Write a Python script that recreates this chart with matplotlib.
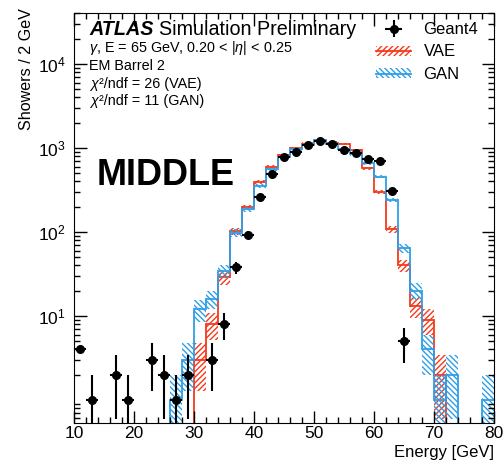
import numpy as np
import matplotlib
matplotlib.use('Agg')
import matplotlib.pyplot as plt
from matplotlib.patches import Patch
from matplotlib.lines import Line2D
from matplotlib.ticker import MultipleLocator, LogLocator, NullFormatter

plt.rcParams['font.family'] = ['Liberation Sans', 'DejaVu Sans']
plt.rcParams['mathtext.fontset'] = 'custom'
plt.rcParams['mathtext.rm'] = 'Liberation Sans'
plt.rcParams['mathtext.it'] = 'Liberation Sans:italic'
plt.rcParams['mathtext.bf'] = 'Liberation Sans:bold'
plt.rcParams['hatch.linewidth'] = 1.0

# 2 GeV bins, 10 - 80 GeV
bin_edges = np.arange(10, 82, 2)
bin_centers = bin_edges[:-1] + 1

# Geant4 reference counts
geant4 = [4, 1, 0, 2, 1, 0, 3, 2, 1, 2, 0, 3, 8, 38, 92, 260, 490, 780, 900,
          1090, 1210, 1120, 950, 870, 740, 700, 310, 5, 0, 0, 0, 0, 0, 0, 0]
# VAE counts
vae = [0, 0, 0, 0, 0, 0, 0, 0, 0, 0, 3, 8, 29, 102, 198, 390, 600, 830, 990,
       1130, 1250, 1160, 1120, 950, 575, 300, 108, 40, 13, 9, 2, 0, 0, 0, 0]
# GAN counts
gan = [0, 0, 0, 0, 0, 0, 0, 0, 1, 3, 12, 16, 34, 98, 185, 350, 560, 780, 960,
       1080, 1250, 1130, 960, 840, 660, 455, 240, 64, 20, 4, 1, 2, 0, 0, 1]

red = '#f5391c'
blue = '#2f9fe6'

fig = plt.figure(figsize=(5.04, 4.62), dpi=100)
ax = fig.add_axes([74/504, 39/462, 420/504, 410/462])
ax.set_yscale('log')


def draw_model(counts, color, hatch):
    n = np.array(counts, dtype=float)
    err = np.sqrt(n)
    low = np.maximum(n - err, 0.05)
    high = n + err
    ok = n > 0
    ax.bar(bin_edges[:-1][ok], (high - low)[ok], bottom=low[ok], width=2, align='edge',
           fill=False, hatch=hatch, edgecolor=color, linewidth=0)
    ax.stairs(np.where(n > 0, n, 1e-3), bin_edges, color=color, lw=1.3, baseline=None)


draw_model(vae, red, '//////')
draw_model(gan, blue, '\\\\\\\\\\\\')

g = np.array(geant4, dtype=float)
gerr = np.sqrt(g)
gerr[0] = 0.0
glo = g - np.maximum(g - gerr, 0.05)
m = g > 0
cont = ax.errorbar(bin_centers[m], g[m], xerr=1, yerr=[glo[m], gerr[m]], fmt='o',
                   color='black', ms=5.5, lw=1.5, capsize=0, zorder=5)

ax.set_xlim(10, 80)
ax.set_ylim(0.53, 4.05e4)
ax.set_xticks(np.arange(10, 81, 10))
ax.xaxis.set_minor_locator(MultipleLocator(2))
ax.set_yticks([10, 100, 1000, 10000])
ax.yaxis.set_minor_locator(LogLocator(base=10, subs=np.arange(2, 10)))
ax.yaxis.set_minor_formatter(NullFormatter())
ax.tick_params(which='both', direction='in', top=True, right=True, labelsize=12.5)
ax.tick_params(which='major', length=9, width=1)
ax.tick_params(which='minor', length=4.5, width=1)
ax.tick_params(axis='x', pad=2)
ax.tick_params(axis='y', pad=6)

fig.text(27/504, 1 - 8/462, 'Showers / 2 GeV', rotation=90, ha='center', va='top', fontsize=11.6)
fig.text(494/504, 1 - 457/462, 'Energy [GeV]', ha='right', va='baseline', fontsize=12)

fig.text(89/504, 1 - 35/462, 'ATLAS', fontsize=14.2, fontweight='bold', fontstyle='italic', va='baseline')
fig.text(159/504, 1 - 35/462, 'Simulation Preliminary', fontsize=14.2, va='baseline')
fs = 10.4
fig.text(89/504, 1 - 52/462, r'$\gamma$, E = 65 GeV, 0.20 < |$\eta$| < 0.25', fontsize=fs, va='baseline')
fig.text(89/504, 1 - 70/462, 'EM Barrel 2', fontsize=fs, va='baseline')

renderer = fig.canvas.get_renderer()
for ypix, txt in [(88, '\u00b2/ndf = 26 (VAE)'), (105, '\u00b2/ndf = 11 (GAN)')]:
    chi = fig.text(89/504, 1 - ypix/462, r'$\chi$', fontsize=fs, va='baseline')
    bb = chi.get_window_extent(renderer)
    fig.text((bb.x1 - 1.5)/504, 1 - ypix/462, txt, fontsize=fs, va='baseline')

fig.text(97/504, 1 - 185/462, 'MIDDLE', fontsize=26, fontweight='bold', va='baseline')

h_vae = (Patch(fill=False, hatch='//////', edgecolor=red, linewidth=0), Line2D([], [], color=red, lw=1.3))
h_gan = (Patch(fill=False, hatch='\\\\\\\\\\\\', edgecolor=blue, linewidth=0), Line2D([], [], color=blue, lw=1.3))
ax.legend([cont, h_vae, h_gan], ['Geant4', 'VAE', 'GAN'], loc='upper left',
          bbox_to_anchor=(376/504, 1 - 22/462), bbox_transform=fig.transFigure,
          frameon=False, fontsize=12, handlelength=2.1, handleheight=0.55,
          handletextpad=0.75, labelspacing=0.45, borderpad=0, borderaxespad=0)

fig.savefig('out.png', dpi=100)
